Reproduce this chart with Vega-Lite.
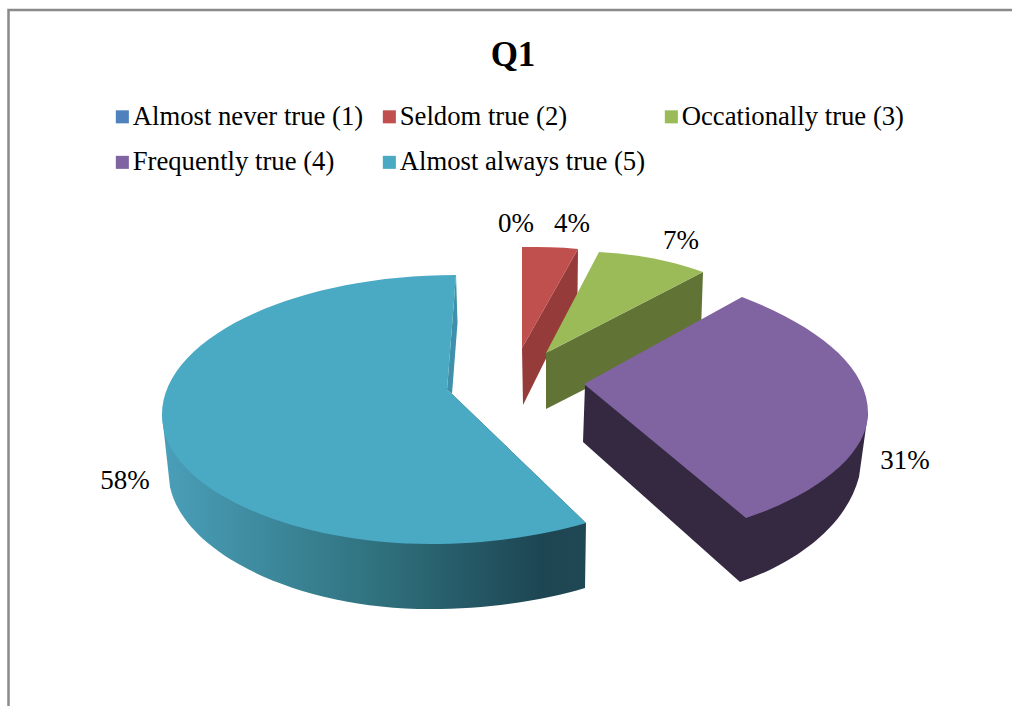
{
  "$schema": "https://vega.github.io/schema/vega-lite/v6.json",
  "width": 1012,
  "height": 706,
  "padding": 0,
  "autosize": {"type": "none"},
  "background": "#ffffff",
  "view": {"stroke": null},
  "title": {
    "text": "Q1",
    "anchor": "middle",
    "frame": "group",
    "font": "Liberation Serif",
    "fontSize": 35,
    "fontWeight": "bold",
    "color": "#000000",
    "baseline": "alphabetic",
    "dx": 7,
    "dy": 101,
    "offset": 0
  },
  "datasets": {
    "survey": [
      {"answer": "Almost never true (1)", "share": 0.0},
      {"answer": "Seldom true (2)", "share": 0.04},
      {"answer": "Occationally true (3)", "share": 0.07},
      {"answer": "Frequently true (4)", "share": 0.31},
      {"answer": "Almost always true (5)", "share": 0.58}
    ],
    "chartFrame": [{"part": "border"}]
  },
  "data": {"name": "survey"},
  "layer": [
    {
      "data": {"name": "chartFrame"},
      "mark": {"type": "point", "filled": false, "opacity": 1, "size": 4, "stroke": "#8a8a8a", "strokeWidth": 2.5, "shape": "M-497.5 353 L-497.5 -343 L506 -343"}
    },
    {
      "transform": [{"filter": "datum.share === 0.58"}],
      "mark": {
        "type": "point", "filled": true, "opacity": 1, "size": 4, "strokeWidth": 0,
        "shape": "M-344 62 L-336 134 C-321 202 -206 256 -76 256 C-16 256 39 247 79 235 L80 170 L-54 41 Z",
        "fill": {
          "gradient": "linear", "x1": 0, "y1": 0, "x2": 1, "y2": 0,
          "stops": [
            {"offset": 0, "color": "#4a9fb9"},
            {"offset": 0.5, "color": "#30727f"},
            {"offset": 0.9, "color": "#1d4552"},
            {"offset": 1, "color": "#1f4854"}
          ]
        }
      }
    },
    {
      "transform": [{"filter": "datum.share === 0.58"}],
      "mark": {"type": "point", "filled": true, "opacity": 1, "size": 4, "strokeWidth": 0, "fill": "#3f90aa", "shape": "M-50 -78 L-48.5 -30 L-54 41 L-59 37 Z"}
    },
    {
      "transform": [{"filter": "datum.share === 0.04"}],
      "mark": {"type": "point", "filled": true, "opacity": 1, "size": 4, "strokeWidth": 0, "fill": "#953b39", "shape": "M72 -104 L71.5 -58 L17 52 L16 -5 Z"}
    },
    {
      "transform": [{"filter": "datum.share === 0.07"}],
      "mark": {"type": "point", "filled": true, "opacity": 1, "size": 4, "strokeWidth": 0, "fill": "#617436", "shape": "M40 0 L197 -81 L195 -23 L40 56 Z"}
    },
    {
      "transform": [{"filter": "datum.share === 0.31"}],
      "mark": {"type": "point", "filled": true, "opacity": 1, "size": 4, "strokeWidth": 0, "fill": "#352841", "shape": "M79 32 L77 89 L234 229 C284 212 339 177 353 124 L362 60 Z"}
    },
    {
      "mark": {"type": "point", "filled": true, "opacity": 1, "size": 4, "strokeWidth": 0},
      "encoding": {
        "color": {
          "field": "answer",
          "type": "nominal",
          "sort": null,
          "scale": {
            "domain": ["Almost never true (1)", "Seldom true (2)", "Occationally true (3)", "Frequently true (4)", "Almost always true (5)"],
            "range": ["#4f81bd", "#c0504d", "#9bbb59", "#8064a2", "#4aa9c3"]
          },
          "legend": {
            "title": null,
            "orient": "none",
            "direction": "horizontal",
            "legendX": 109,
            "legendY": 103,
            "columns": 3,
            "symbolType": "square",
            "symbolSize": 170,
            "symbolOpacity": 1,
            "symbolStrokeWidth": 0,
            "labelFont": "Liberation Serif",
            "labelFontSize": 26.7,
            "labelColor": "#000000",
            "labelOffset": -3,
            "labelLimit": 400,
            "rowPadding": 18,
            "columnPadding": 12,
            "gridAlign": "each"
          }
        },
        "shape": {
          "field": "share",
          "type": "ordinal",
          "legend": null,
          "scale": {
            "domain": [0, 0.04, 0.07, 0.31, 0.58],
            "range": [
              "M0 0",
              "M16 -106 C34 -106 54 -106 72 -104 L16 -5 Z",
              "M93 -101 C129 -99 164 -93 197 -81 L40 0 Z",
              "M78 31 L236 -56 C309 -28 362 12 362 60 C362 102 309 142 240 165 Z",
              "M-50 -78 L-59 37 L-54 41 L80 170 C39 182 -16 191 -76 191 C-216 191 -344 135 -344 62 C-344 -15 -212 -78 -50 -78 Z"
            ]
          }
        }
      }
    },
    {
      "mark": {"type": "text", "font": "Liberation Serif", "fontSize": 27, "color": "#000000", "align": "center", "baseline": "middle"},
      "encoding": {
        "x": {
          "field": "share", "type": "quantitative", "axis": null,
          "scale": {"domain": [0, 0.04, 0.07, 0.31, 0.58], "range": [516, 572, 681, 905, 125], "zero": false, "nice": false}
        },
        "y": {
          "field": "share", "type": "quantitative", "axis": null,
          "scale": {"domain": [0, 0.04, 0.07, 0.31, 0.58], "range": [224, 224, 241, 461, 481], "zero": false, "nice": false}
        },
        "text": {"field": "share", "type": "quantitative", "format": ".0%"}
      }
    }
  ]
}
